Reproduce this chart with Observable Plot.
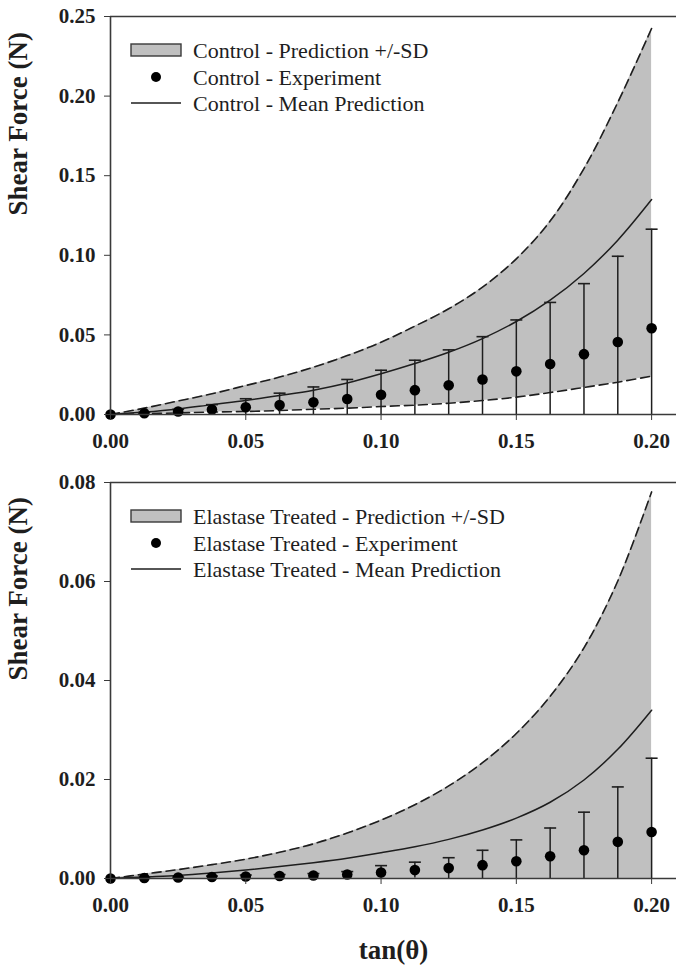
<!DOCTYPE html>
<html><head><meta charset="utf-8">
<script src="https://cdn.jsdelivr.net/npm/d3@7"></script>
<script src="https://cdn.jsdelivr.net/npm/@observablehq/plot@0.6"></script>
<style>
body{margin:0;background:#fff;width:676px;height:971px;overflow:hidden}
#chart svg{display:block}
</style></head><body><div id="chart"></div>
<script>
// tan(theta) sample positions
const tanTheta = [0, 0.0125, 0.025, 0.0375, 0.05, 0.0625, 0.075, 0.0875, 0.1, 0.1125, 0.125, 0.1375, 0.15, 0.1625, 0.175, 0.1875, 0.2];

// Control
const controlExp   = [0, 0.0008, 0.0019, 0.0031, 0.0046, 0.0060, 0.0077, 0.0097, 0.0124, 0.0153, 0.0184, 0.0220, 0.0271, 0.0317, 0.0379, 0.0455, 0.0542];
const controlSD    = [0, 0.0006, 0.0013, 0.0031, 0.0053, 0.0074, 0.0096, 0.0123, 0.0154, 0.0188, 0.0222, 0.0269, 0.0323, 0.0387, 0.0443, 0.0539, 0.0622];
const controlMean  = [0, 0.0015, 0.0035, 0.0062, 0.0088, 0.0119, 0.0153, 0.0198, 0.0256, 0.0320, 0.0391, 0.0477, 0.0584, 0.0718, 0.0886, 0.1095, 0.1350];
const controlUpper = [0, 0.0040, 0.0085, 0.0130, 0.0182, 0.0235, 0.0297, 0.0370, 0.0454, 0.0555, 0.0664, 0.0800, 0.0978, 0.1215, 0.1545, 0.1960, 0.2425];
const controlLower = [0, 0.0005, 0.0010, 0.0015, 0.0019, 0.0025, 0.0033, 0.0040, 0.0050, 0.0059, 0.0071, 0.0088, 0.0109, 0.0138, 0.0170, 0.0203, 0.0241];

// Elastase treated
const elastaseExp   = [0, 0.0001, 0.0002, 0.0003, 0.0004, 0.0005, 0.0006, 0.0008, 0.0012, 0.0017, 0.0021, 0.0027, 0.0035, 0.0045, 0.0057, 0.0074, 0.0094];
const elastaseSD    = [0, 0.0001, 0.0001, 0.0002, 0.0003, 0.0003, 0.0004, 0.0006, 0.0014, 0.0016, 0.0021, 0.0030, 0.0043, 0.0057, 0.0077, 0.0111, 0.0149];
const elastaseMean  = [0, 0.0003, 0.0006, 0.0011, 0.0017, 0.0024, 0.0032, 0.0041, 0.0052, 0.0064, 0.0079, 0.0098, 0.0122, 0.0154, 0.0199, 0.0261, 0.0340];
const elastaseUpper = [0, 0.0009, 0.0018, 0.0028, 0.0039, 0.0053, 0.0070, 0.0092, 0.0118, 0.0149, 0.0187, 0.0234, 0.0293, 0.0368, 0.0466, 0.0601, 0.0781];
const elastaseLower = [0, 0, 0, 0, 0, 0, 0, 0, 0, 0, 0, 0, 0, 0, 0, 0, 0];

// Tick values
const xTicks = [0, 0.05, 0.10, 0.15, 0.20];
const controlYTicks = [0, 0.05, 0.10, 0.15, 0.20, 0.25];
const elastaseYTicks = [0, 0.02, 0.04, 0.06, 0.08];

const controlLegend = ["Control - Prediction +/-SD", "Control - Experiment", "Control - Mean Prediction"];
const elastaseLegend = ["Elastase Treated - Prediction +/-SD", "Elastase Treated - Experiment", "Elastase Treated - Mean Prediction"];
const yTitle = "Shear Force (N)";
const xTitle = "tan(θ)";

const INK = "#1e1e1e";
const AXIS = "#3a3a3a";
const FONT = "'Liberation Serif', 'Times New Roman', serif";

const capSymbol = {draw(ctx) { ctx.moveTo(-6, 0); ctx.lineTo(6, 0); }};

function panel({exp, sd, mean, upper, lower, showLower, yMax, yTicks, legend, marginTop, marginBottom, height, withXTitle}) {
  const rows = tanTheta.map((x, i) => ({x, exp: exp[i], sd: sd[i], mean: mean[i], upper: upper[i], lower: lower[i]}));
  const curve = "catmull-rom";
  const marks = [
    Plot.areaY(rows, {x: "x", y1: "lower", y2: "upper", fill: "#c0c0c0", curve}),
    Plot.lineY(rows, {x: "x", y: "upper", stroke: INK, strokeWidth: 1.6, strokeDasharray: "9,5", curve}),
    showLower ? Plot.lineY(rows, {x: "x", y: "lower", stroke: INK, strokeWidth: 1.6, strokeDasharray: "9,5", curve}) : null,
    Plot.lineY(rows, {x: "x", y: "mean", stroke: INK, strokeWidth: 1.5, curve}),
    Plot.ruleX(rows, {x: "x", y1: d => Math.max(0, d.exp - d.sd), y2: d => d.exp + d.sd, stroke: INK, strokeWidth: 1.5}),
    Plot.dot(rows.filter(d => d.sd > 0), {x: "x", y: d => d.exp + d.sd, symbol: capSymbol, stroke: INK, strokeWidth: 1.6}),
    Plot.dot(rows, {x: "x", y: "exp", r: 5.3, fill: "#000"}),
    Plot.ruleY([0], {stroke: AXIS, strokeWidth: 1.6}),
    Plot.ruleY([yMax], {stroke: AXIS, strokeWidth: 1.6}),
    Plot.ruleX([0], {stroke: AXIS, strokeWidth: 1.6}),
    Plot.axisX({ticks: xTicks, tickFormat: d3.format(".2f"), tickSize: 6, tickPadding: 13, fontSize: 21, fontWeight: "bold", stroke: AXIS, fill: INK, label: null}),
    Plot.axisY({ticks: yTicks, tickFormat: d3.format(".2f"), tickSize: 6, tickPadding: 9, fontSize: 21, fontWeight: "bold", stroke: AXIS, fill: INK, label: null}),
    Plot.text([yTitle], {text: d => d, frameAnchor: "left", dx: -92, rotate: -90, fontSize: 27, fontWeight: "bold", fill: INK, letterSpacing: "3.5px"}),
    withXTitle ? Plot.text([xTitle], {text: d => d, frameAnchor: "bottom", dy: 80, fontSize: 27, fontWeight: "bold", fill: INK}) : null
  ].filter(Boolean);
  const svg = Plot.plot({
    width: 676, height, marginLeft: 110, marginRight: 0, marginTop, marginBottom,
    style: {fontFamily: FONT, background: "#fff", overflow: "visible"},
    x: {domain: [0, 0.2092]},
    y: {domain: [0, yMax]},
    marks
  });
  // legend inside the frame
  const g = d3.select(svg).append("g").attr("font-family", FONT).attr("font-size", 22)
    .attr("fill", INK).attr("text-anchor", "start");
  const x0 = 110, top = marginTop, rowY = [top + 34, top + 61, top + 87];
  g.append("rect").attr("x", x0 + 21).attr("y", rowY[0] - 6).attr("width", 50).attr("height", 12)
    .attr("fill", "#c0c0c0").attr("stroke", AXIS).attr("stroke-width", 1.4);
  g.append("circle").attr("cx", x0 + 46).attr("cy", rowY[1]).attr("r", 5).attr("fill", "#000");
  g.append("line").attr("x1", x0 + 21).attr("x2", x0 + 71).attr("y1", rowY[2]).attr("y2", rowY[2])
    .attr("stroke", INK).attr("stroke-width", 1.5);
  legend.forEach((t, i) => {
    g.append("text").attr("x", x0 + 83).attr("y", rowY[i]).attr("dy", "0.35em").attr("text-anchor", "start").text(t);
  });
  return svg;
}

const root = document.getElementById("chart");
root.append(panel({
  exp: controlExp, sd: controlSD, mean: controlMean, upper: controlUpper, lower: controlLower, showLower: true,
  yMax: 0.25, yTicks: controlYTicks, legend: controlLegend,
  marginTop: 16, marginBottom: 40, height: 454, withXTitle: false
}));
root.append(panel({
  exp: elastaseExp, sd: elastaseSD, mean: elastaseMean, upper: elastaseUpper, lower: elastaseLower, showLower: false,
  yMax: 0.08, yTicks: elastaseYTicks, legend: elastaseLegend,
  marginTop: 28, marginBottom: 93, height: 517, withXTitle: true
}));
</script>
</body></html>
